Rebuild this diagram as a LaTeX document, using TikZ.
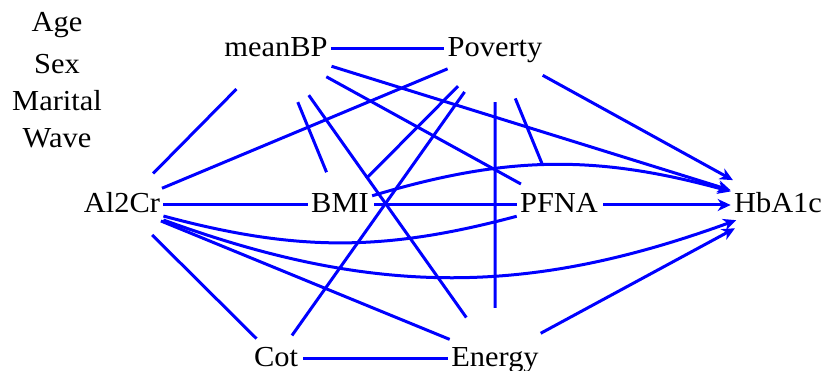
\documentclass[tikz,border=0pt]{standalone}
\usepackage{fontspec}
\setmainfont{Liberation Serif}
\usetikzlibrary{arrows.meta}
\begin{document}
\begin{tikzpicture}[x=1pt,y=1pt,
    var/.style={font=\fontsize{29}{33}\selectfont,xscale=1.05,inner sep=3pt,text height=20pt,text depth=4pt},
    edge/.style={blue,line width=3pt},
    arc/.style={edge,-{Stealth[length=13pt,width=12pt,inset=4pt]}}]
    \useasboundingbox (0,0) rectangle (826,-371);
    % adjustment set
    \foreach \v/\y in {Age/32,Sex/74,Marital/111,Wave/148}
        {\node[var,anchor=base] (\v) at (57,-\y) {\v};
        }
    \node[var] (meanBP) at (276,-49) {meanBP};
    \node[var] (Poverty) at (495,-49) {Poverty};
    \node[var] (Al2Cr) at (122,-205) {Al2Cr};
    \node[var] (BMI) at (340,-205) {BMI};
    \node[var] (PFNA) at (559,-205) {PFNA};
    \node[var] (HbA1c) at (778,-205) {HbA1c};
    \node[var] (Cot) at (276,-358) {Cot};
    \node[var] (Energy) at (495,-358) {Energy};
    % undirected edges
    \foreach \a/\b/\s/\e in {meanBP/Poverty/0/0, Al2Cr/BMI/0/0, BMI/PFNA/2/0, Cot/Energy/2/0,
        Al2Cr/Poverty/4/12, Al2Cr/meanBP/23/35, meanBP/BMI/41/19, meanBP/Energy/38/31,
        meanBP/PFNA/26/12, Poverty/BMI/31/16, Poverty/Cot/34/9, Poverty/Energy/38/35,
        Poverty/PFNA/37/27, Al2Cr/Energy/2/9, Al2Cr/Cot/21/6}
        {\draw[edge,shorten <=\s pt,shorten >=\e pt] (\a) -- (\b);
        }
    % arrows into HbA1c
    \foreach \a/\s/\e in {PFNA/2/0, meanBP/7/0, Poverty/23/20, Energy/20/17}
        {\draw[arc,shorten <=\s pt,shorten >=\e pt] (\a) -- (HbA1c);
        }
    \draw[arc] (BMI) to[bend left=16] (HbA1c);
    \draw[arc] (Al2Cr) to[bend right=20] (HbA1c);
    \draw[edge] (Al2Cr) to[bend right=15] (PFNA);
\end{tikzpicture}
\end{document}
